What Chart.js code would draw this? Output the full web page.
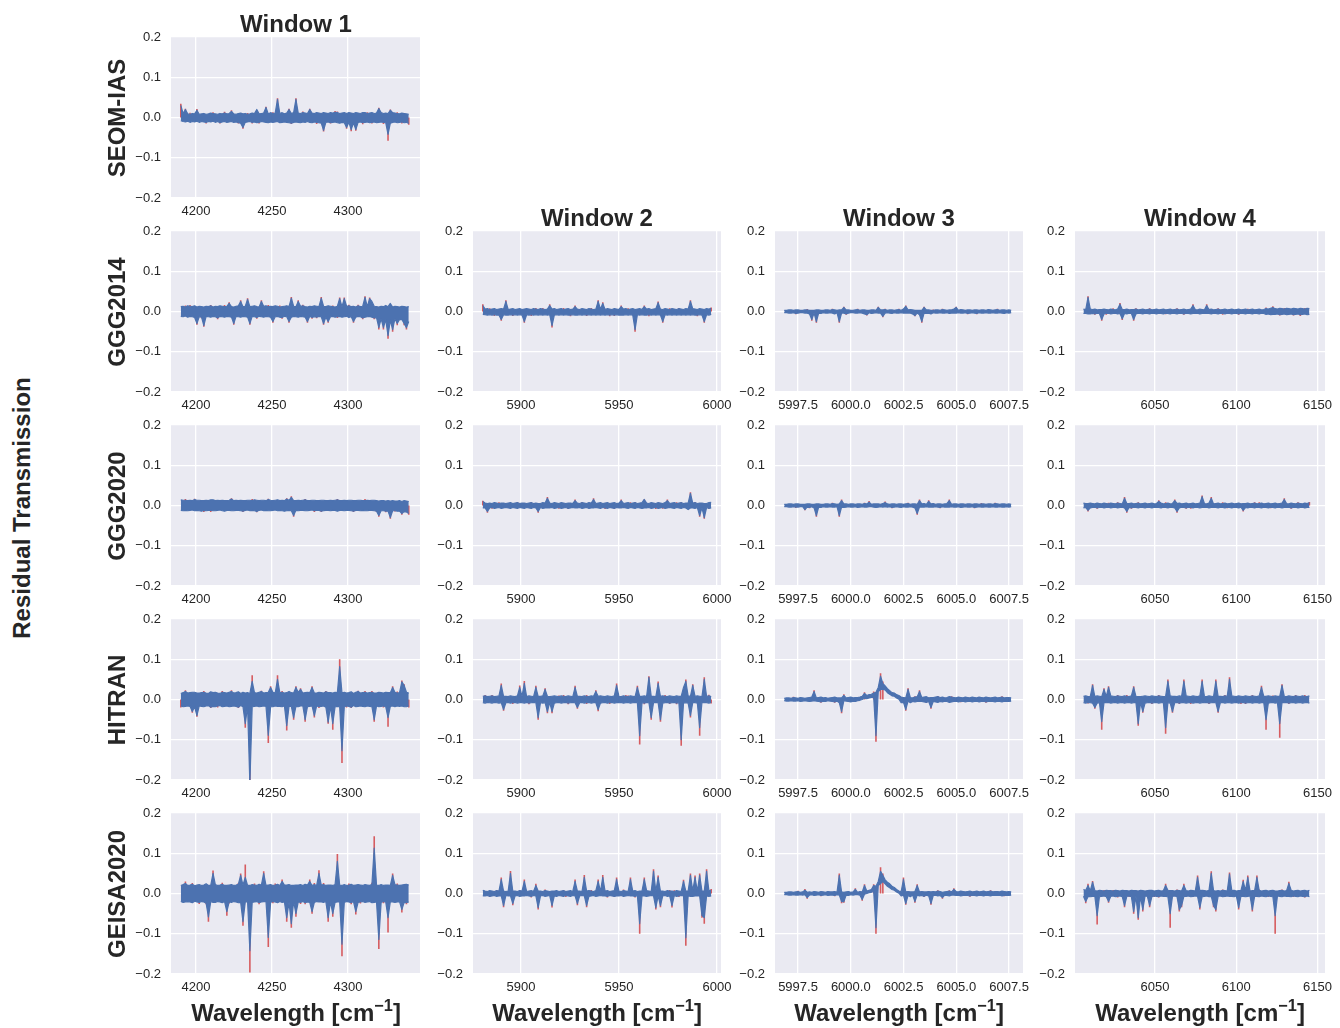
<!DOCTYPE html>
<html><head><meta charset="utf-8">
<script src="https://cdn.jsdelivr.net/npm/chart.js@4.4.0/dist/chart.umd.min.js"></script>
<style>
html,body{margin:0;padding:0;background:#fff;}
body{width:1340px;height:1028px;position:relative;overflow:hidden;font-family:"Liberation Sans",Arial,sans-serif;color:#262626;}
canvas.panel{position:absolute;}
.lbl{position:absolute;font-weight:bold;font-size:24px;line-height:24px;white-space:nowrap;transform:translate(-50%,-50%);}
.rot{transform:translate(-50%,-50%) rotate(-90deg);}
sup{font-size:0.68em;vertical-align:0.6em;line-height:0;}
</style></head><body>
<script>
// ---------------- text ----------------
const windowTitles = ["Window 1","Window 2","Window 3","Window 4"];
const modelNames = ["SEOM-IAS","GGG2014","GGG2020","HITRAN","GEISA2020"];
const yAxisTitle = "Residual Transmission";
const xAxisTitle = "Wavelength [cm<sup>\u22121</sup>]";

// ---------------- wavenumber ranges of each window (data span, cm-1) ----------------
const W1_span = [4190, 4340];
const W2_span = [5880.5, 5997];
const W3_span = [5996.85, 6007.6];
const W4_span = [6006, 6145];

// ---- blue residual: upper / lower extent at 100 samples across each window ----
// ---- red residual: [sample index, extreme value] where red reaches beyond blue ----
const SEOM_W1_upper = [.03,.01,.02,.009,.008,.01,.009,.018,.008,.009,
.01,.008,.009,.011,.01,.009,.008,.01,.009,.011,
.009,.01,.015,.009,.008,.01,.011,.009,.01,.008,
.009,.011,.01,.02,.009,.01,.011,.025,.009,.012,
.01,.011,.045,.01,.012,.009,.011,.02,.01,.012,
.045,.011,.01,.012,.011,.01,.02,.011,.01,.012,
.011,.01,.012,.011,.01,.012,.011,.013,.012,.01,
.011,.012,.01,.012,.011,.01,.012,.011,.01,.012,
.012,.01,.011,.012,.01,.011,.022,.012,.01,.011,
.01,.018,.012,.011,.01,.009,.011,.01,.009,.008];
const SEOM_W1_lower = [-.008,-.01,-.011,-.009,-.012,-.01,-.011,-.009,-.012,-.01,
-.011,-.012,-.01,-.011,-.009,-.012,-.01,-.013,-.011,-.01,
-.012,-.011,-.01,-.012,-.011,-.013,-.014,-.025,-.012,-.011,
-.01,-.012,-.011,-.013,-.012,-.01,-.011,-.012,-.013,-.011,
-.012,-.011,-.01,-.013,-.012,-.011,-.012,-.013,-.014,-.012,
-.011,-.012,-.013,-.011,-.012,-.01,-.012,-.013,-.011,-.012,
-.013,-.014,-.032,-.012,-.011,-.013,-.012,-.011,-.013,-.014,
-.012,-.013,-.025,-.012,-.03,-.013,-.03,-.012,-.011,-.013,
-.012,-.011,-.013,-.012,-.011,-.013,-.012,-.011,-.012,-.013,
-.042,-.014,-.012,-.011,-.013,-.012,-.011,-.013,-.012,-.015];
const SEOM_W1_red = [[0,.034],[2,.022],[7,.021],[14,.013],[22,.018],[27,-.028],[37,.027],[42,.048],[47,.022],[50,.048],
[56,.022],[62,-.035],[68,.015],[72,-.028],[74,-.034],[76,-.033],[86,.024],[90,-.058],[91,.02],[99,-.018],
[11,-.015],[17,-.015],[25,-.015],[34,-.015],[48,-.016],[65,-.015],[83,-.015],[96,-.015],
[4,.012],[19,.014],[29,.011],[31,-.015],[40,.013],[53,.015],[59,-.016],[67,.016],[79,-.017],[81,.013],[88,-.016],[94,.013]];

const GGG2014_W1_upper = [.012,.013,.011,.014,.013,.012,.014,.011,.013,.012,
.011,.013,.012,.014,.011,.013,.012,.014,.013,.012,
.013,.02,.012,.011,.013,.014,.025,.012,.013,.03,
.012,.013,.014,.012,.011,.025,.013,.014,.012,.013,
.012,.014,.013,.011,.012,.013,.014,.012,.033,.013,
.012,.025,.013,.014,.012,.011,.013,.012,.014,.013,
.012,.033,.013,.012,.014,.013,.012,.011,.013,.032,
.012,.032,.013,.014,.012,.013,.011,.014,.012,.013,
.035,.012,.032,.025,.013,.012,.011,.013,.012,.015,
.012,.02,.011,.013,.012,.011,.013,.012,.011,.012];
const GGG2014_W1_lower = [-.012,-.013,-.011,-.014,-.012,-.013,-.015,-.03,-.013,-.014,
-.035,-.012,-.013,-.014,-.012,-.013,-.016,-.012,-.013,-.014,
-.012,-.013,-.014,-.03,-.012,-.013,-.014,-.012,-.013,-.014,
-.03,-.012,-.013,-.015,-.012,-.013,-.014,-.012,-.013,-.014,
-.025,-.013,-.012,-.014,-.015,-.012,-.013,-.025,-.014,-.012,
-.013,-.014,-.012,-.013,-.014,-.025,-.012,-.015,-.013,-.014,
-.012,-.013,-.03,-.014,-.025,-.013,-.012,-.014,-.013,-.012,
-.014,-.013,-.012,-.015,-.013,-.025,-.014,-.012,-.013,-.016,
-.014,-.013,-.012,-.014,-.016,-.015,-.04,-.018,-.04,-.02,
-.06,-.022,-.045,-.018,-.03,-.02,-.02,-.03,-.04,-.025];
const GGG2014_W1_red = [[7,-.033],[10,-.038],[21,.023],[23,-.033],[26,.028],[29,.033],[30,-.033],[35,.028],[40,-.028],[47,-.028],
[48,.036],[51,.028],[55,-.028],[61,.036],[62,-.033],[64,-.028],[69,.035],[71,.035],[75,-.028],[80,.038],
[82,.035],[86,-.045],[88,-.045],[90,-.068],[92,-.05],[94,-.034],[97,-.034],[98,-.045],
[4,.016],[13,.016],[16,-.019],[44,-.018],[57,-.018],[73,.017],[79,-.019],
[2,.015],[9,-.017],[19,.016],[33,-.018],[38,.016],[43,.015],[53,.017],[59,-.017],[66,.015],[68,-.016],[77,.017],[84,-.019]];

const GGG2020_W1_upper = [.014,.013,.013,.012,.013,.012,.015,.013,.013,.012,
.012,.013,.012,.014,.014,.012,.013,.012,.013,.012,
.012,.013,.016,.012,.013,.012,.013,.012,.012,.013,
.013,.012,.014,.013,.012,.013,.013,.012,.015,.013,
.012,.013,.014,.012,.013,.012,.016,.013,.02,.012,
.012,.013,.012,.013,.014,.012,.012,.013,.013,.012,
.012,.013,.013,.012,.012,.013,.012,.013,.014,.012,
.012,.013,.012,.013,.013,.012,.012,.013,.013,.012,
.012,.013,.012,.013,.013,.012,.011,.012,.012,.011,
.012,.011,.012,.011,.011,.012,.01,.012,.011,.01];
const GGG2020_W1_lower = [-.012,-.013,-.012,-.013,-.012,-.011,-.013,-.012,-.013,-.014,
-.012,-.013,-.012,-.012,-.013,-.013,-.012,-.011,-.013,-.014,
-.012,-.012,-.013,-.013,-.012,-.012,-.013,-.014,-.012,-.011,
-.013,-.012,-.013,-.015,-.012,-.011,-.013,-.012,-.013,-.013,
-.012,-.011,-.013,-.012,-.013,-.014,-.013,-.012,-.013,-.025,
-.012,-.013,-.012,-.012,-.013,-.013,-.012,-.011,-.013,-.012,
-.012,-.014,-.013,-.012,-.012,-.013,-.012,-.012,-.014,-.012,
-.012,-.013,-.012,-.012,-.013,-.014,-.012,-.012,-.013,-.012,
-.013,-.013,-.012,-.012,-.013,-.014,-.025,-.013,-.013,-.014,
-.014,-.03,-.013,-.013,-.014,-.014,-.02,-.015,-.016,-.02];
const GGG2020_W1_red = [[48,.023],[49,-.028],[86,-.028],[91,-.033],[96,-.023],[99,-.023],
[2,.016],[6,.017],[13,-.016],[22,.018],[27,-.016],[33,-.017],[38,.017],[46,.018],[54,.016],[61,-.016],
[68,.016],[75,-.016],[85,-.016],[93,-.015],
[10,-.016],[31,.016],[58,-.016],[80,.016],[89,-.017]];

const HITRAN_W1_upper = [.015,.017,.02,.016,.017,.018,.018,.016,.016,.017,
.018,.016,.015,.019,.017,.018,.016,.015,.018,.017,
.016,.018,.02,.016,.017,.019,.015,.018,.016,.017,
.015,.045,.017,.016,.018,.02,.016,.017,.018,.03,
.018,.016,.05,.017,.018,.016,.017,.02,.017,.016,
.03,.018,.025,.016,.017,.018,.017,.03,.016,.016,
.018,.017,.016,.019,.017,.017,.016,.018,.017,.082,
.016,.018,.016,.017,.019,.015,.018,.02,.016,.017,
.018,.016,.017,.018,.016,.016,.018,.017,.016,.018,
.017,.017,.03,.018,.016,.017,.044,.035,.018,.016];
const HITRAN_W1_lower = [-.016,-.018,-.017,-.016,-.017,-.03,-.018,-.04,-.016,-.017,
-.018,-.016,-.015,-.019,-.017,-.018,-.016,-.015,-.018,-.017,
-.016,-.018,-.017,-.016,-.017,-.019,-.015,-.018,-.06,-.017,
-.21,-.018,-.017,-.016,-.018,-.017,-.016,-.017,-.089,-.018,
-.018,-.016,-.017,-.017,-.018,-.016,-.065,-.017,-.017,-.045,
-.017,-.018,-.016,-.016,-.05,-.018,-.017,-.016,-.04,-.016,
-.018,-.017,-.016,-.019,-.056,-.017,-.06,-.018,-.017,-.018,
-.127,-.018,-.016,-.017,-.019,-.015,-.018,-.017,-.016,-.017,
-.018,-.016,-.017,-.018,-.05,-.016,-.018,-.017,-.016,-.018,
-.045,-.017,-.016,-.018,-.016,-.017,-.016,-.018,-.018,-.016];
const HITRAN_W1_red = [[2,.023],[5,-.033],[7,-.043],[22,.023],[28,-.07],[30,-.21],[31,.06],[38,-.108],[39,.033],[42,.06],
[46,-.077],[49,-.05],[50,.033],[52,.028],[54,-.055],[57,.033],[58,-.045],[64,-.06],[66,-.075],[69,.1],
[70,-.158],[77,.022],[84,-.055],[90,-.068],[92,.033],[96,.047],[97,.038],
[13,-.021],[18,.021],[25,-.021],[35,.022],[63,.021],[74,-.021],[83,.021],
[0,-.02],[10,.021],[16,-.02],[44,.021],[60,-.021],[72,-.02],[80,.021],[88,-.02],[94,.02],[99,-.02]];

const GEISA_W1_upper = [.02,.022,.025,.02,.021,.023,.019,.021,.022,.02,
.021,.024,.02,.02,.05,.022,.02,.021,.023,.02,
.02,.021,.022,.02,.021,.023,.045,.021,.04,.02,
.02,.022,.021,.02,.023,.021,.05,.02,.021,.022,
.02,.021,.023,.02,.03,.021,.021,.022,.02,.02,
.021,.021,.022,.02,.023,.021,.03,.02,.022,.02,
.05,.021,.022,.02,.021,.021,.02,.022,.08,.021,
.02,.022,.02,.021,.023,.02,.021,.022,.021,.02,
.022,.021,.02,.023,.113,.021,.02,.022,.02,.021,
.021,.02,.045,.022,.021,.02,.021,.022,.023,.021];
const GEISA_W1_lower = [-.02,-.022,-.021,-.02,-.021,-.023,-.019,-.021,-.022,-.02,
-.021,-.024,-.058,-.02,-.022,-.022,-.02,-.021,-.023,-.02,
-.045,-.021,-.022,-.02,-.021,-.023,-.022,-.07,-.021,-.02,
-.142,-.022,-.021,-.02,-.023,-.021,-.02,-.02,-.109,-.022,
-.02,-.021,-.023,-.02,-.022,-.021,-.06,-.022,-.075,-.02,
-.05,-.021,-.022,-.02,-.023,-.021,-.022,-.045,-.022,-.02,
-.021,-.021,-.022,-.02,-.06,-.021,-.05,-.022,-.021,-.021,
-.126,-.022,-.02,-.021,-.023,-.02,-.045,-.022,-.021,-.02,
-.022,-.021,-.02,-.023,-.022,-.021,-.114,-.022,-.02,-.021,
-.06,-.02,-.021,-.022,-.021,-.02,-.04,-.022,-.023,-.021];
const GEISA_W1_red = [[2,.03],[12,-.07],[14,.057],[20,-.055],[26,.05],[27,-.08],[28,.072],[30,-.196],[36,.055],[38,-.133],
[44,.035],[46,-.07],[48,-.085],[50,-.058],[56,.035],[57,-.05],[60,.058],[64,-.07],[66,-.058],[68,.098],
[70,-.156],[76,-.052],[84,.142],[86,-.138],[90,-.097],[92,.05],[96,-.047],
[11,-.027],[18,.027],[25,.026],[34,-.027],[41,.025],[54,-.027],[62,.026],[74,-.027],[83,.027],[98,-.027],
[5,.026],[8,-.026],[21,-.025],[32,.025],[40,-.024],[52,-.026],[58,.026],[73,.025],[78,-.025],[88,-.024],[94,.025]];

const GGG2014_W2_upper = [.015,.006,.007,.005,.006,.007,.005,.006,.007,.006,
.025,.005,.006,.007,.005,.006,.007,.005,.006,.007,
.006,.005,.007,.006,.005,.007,.006,.005,.006,.015,
.006,.007,.005,.006,.007,.005,.006,.007,.005,.006,
.012,.006,.005,.007,.006,.005,.007,.006,.005,.006,
.025,.006,.02,.005,.007,.006,.005,.007,.006,.005,
.012,.006,.007,.005,.006,.007,.005,.006,.007,.005,
.012,.006,.007,.005,.006,.007,.022,.006,.005,.007,
.006,.005,.007,.006,.005,.007,.006,.005,.007,.006,
.025,.007,.006,.005,.007,.006,.005,.007,.006,.008];
const GGG2014_W2_lower = [-.007,-.008,-.009,-.008,-.009,-.008,-.009,-.009,-.02,-.008,
-.009,-.009,-.008,-.009,-.008,-.009,-.008,-.009,-.025,-.008,
-.009,-.008,-.009,-.008,-.009,-.008,-.009,-.008,-.009,-.008,
-.035,-.009,-.008,-.009,-.008,-.009,-.008,-.009,-.009,-.008,
-.009,-.009,-.008,-.009,-.008,-.009,-.008,-.009,-.008,-.009,
-.008,-.009,-.008,-.009,-.008,-.009,-.008,-.009,-.008,-.009,
-.009,-.009,-.008,-.009,-.008,-.009,-.045,-.008,-.009,-.008,
-.009,-.009,-.008,-.009,-.008,-.009,-.008,-.009,-.025,-.008,
-.009,-.008,-.009,-.008,-.009,-.008,-.009,-.008,-.009,-.008,
-.009,-.008,-.009,-.009,-.008,-.009,-.025,-.008,-.009,-.007];
const GGG2014_W2_red = [[0,.018],[8,-.023],[10,.028],[18,-.028],[29,.018],[30,-.04],[40,.015],[50,.028],[52,.023],[60,.015],
[66,-.05],[70,.015],[76,.025],[78,-.028],[90,.028],[96,-.028],
[5,-.011],[13,-.011],[23,.009],[35,.009],[45,-.011],[57,-.011],[85,.009],[99,.01],
[3,.008],[21,-.011],[26,.009],[38,-.012],[47,.009],[55,-.012],[63,.008],[72,-.012],[81,.008],[93,-.012]];

const GGG2020_W2_upper = [.01,.006,.005,.006,.005,.007,.006,.005,.006,.006,
.005,.006,.007,.005,.006,.007,.005,.006,.006,.005,
.006,.007,.005,.006,.005,.005,.007,.006,.018,.006,
.005,.007,.006,.005,.007,.006,.005,.006,.006,.005,
.012,.006,.005,.007,.006,.005,.007,.006,.015,.005,
.006,.007,.005,.006,.007,.005,.006,.007,.005,.006,
.012,.005,.006,.007,.005,.006,.007,.005,.006,.007,
.015,.006,.005,.007,.006,.005,.007,.006,.005,.007,
.012,.005,.006,.007,.005,.006,.007,.005,.006,.006,
.03,.006,.007,.005,.006,.006,.005,.005,.007,.008];
const GGG2020_W2_lower = [-.006,-.006,-.015,-.006,-.005,-.007,-.006,-.005,-.007,-.006,
-.005,-.006,-.007,-.005,-.006,-.007,-.005,-.006,-.007,-.005,
-.006,-.007,-.005,-.006,-.015,-.005,-.007,-.006,-.006,-.006,
-.005,-.007,-.006,-.005,-.007,-.006,-.005,-.007,-.006,-.005,
-.006,-.006,-.005,-.007,-.006,-.005,-.007,-.006,-.006,-.005,
-.006,-.007,-.005,-.006,-.007,-.005,-.006,-.007,-.005,-.006,
-.006,-.005,-.006,-.007,-.005,-.006,-.007,-.005,-.006,-.007,
-.006,-.006,-.005,-.007,-.006,-.005,-.007,-.006,-.005,-.007,
-.006,-.005,-.006,-.007,-.005,-.006,-.007,-.005,-.006,-.01,
-.006,-.006,-.007,-.005,-.025,-.006,-.03,-.005,-.007,-.006];
const GGG2020_W2_red = [[0,.012],[2,-.018],[24,-.018],[28,.021],[40,.015],[48,.018],[60,.015],[70,.015],[80,.015],[90,.033],
[94,-.028],[96,-.033],
[7,.008],[15,.009],[37,-.009],[53,-.009],[66,.009],[75,-.009],[86,.009],
[4,-.008],[21,.009],[33,-.008],[43,.009],[57,-.009],[64,.008],[78,-.008],[84,.008],[92,.009],[98,-.009]];

const HITRAN_W2_upper = [.008,.009,.007,.008,.009,.007,.008,.009,.035,.008,
.008,.007,.009,.008,.007,.009,.03,.008,.04,.007,
.009,.008,.007,.03,.008,.008,.009,.025,.008,.007,
.008,.009,.008,.007,.009,.008,.007,.009,.008,.007,
.03,.008,.008,.007,.009,.008,.007,.009,.008,.02,
.008,.009,.008,.007,.009,.008,.007,.009,.035,.008,
.007,.009,.008,.007,.009,.008,.007,.03,.008,.008,
.009,.007,.055,.008,.008,.007,.04,.008,.009,.008,
.007,.009,.008,.007,.009,.008,.008,.03,.045,.009,
.008,.035,.008,.009,.008,.007,.05,.008,.009,.007];
const HITRAN_W2_lower = [-.008,-.009,-.007,-.008,-.009,-.007,-.008,-.009,-.008,-.025,
-.008,-.007,-.009,-.008,-.007,-.009,-.008,-.008,-.009,-.007,
-.009,-.008,-.007,-.008,-.045,-.008,-.009,-.008,-.03,-.007,
-.03,-.009,-.008,-.007,-.009,-.008,-.007,-.009,-.008,-.007,
-.008,-.02,-.008,-.007,-.009,-.008,-.007,-.009,-.008,-.008,
-.025,-.009,-.008,-.007,-.009,-.008,-.007,-.009,-.008,-.008,
-.007,-.009,-.008,-.007,-.009,-.008,-.007,-.008,-.09,-.008,
-.009,-.007,-.008,-.045,-.008,-.007,-.008,-.05,-.009,-.008,
-.007,-.009,-.008,-.007,-.009,-.008,-.1,-.009,-.008,-.009,
-.04,-.008,-.008,-.009,-.07,-.007,-.008,-.008,-.009,-.007];
const HITRAN_W2_red = [[8,.04],[9,-.028],[16,.035],[18,.046],[23,.034],[24,-.05],[27,.028],[28,-.034],[30,-.034],[40,.034],
[41,-.023],[49,.023],[50,-.029],[58,.04],[67,.034],[68,-.112],[72,.058],[73,-.05],[76,.045],[77,-.055],
[86,-.115],[88,.05],[90,-.045],[91,.038],[94,-.09],[96,.055],
[4,.011],[13,-.011],[35,.011],[45,-.011],[62,.011],[81,-.011],[99,-.01],
[1,.011],[20,-.012],[33,.01],[37,-.012],[45,.011],[55,-.011],[63,.01],[70,-.012],[79,.011],[84,-.012],[98,.012]];

const GEISA_W2_upper = [.008,.006,.005,.007,.006,.005,.007,.006,.035,.006,
.005,.006,.05,.006,.006,.005,.007,.006,.03,.005,
.006,.007,.005,.02,.006,.006,.005,.007,.006,.005,
.006,.006,.007,.005,.006,.007,.005,.006,.007,.005,
.03,.006,.006,.005,.04,.006,.007,.006,.005,.007,
.03,.005,.04,.006,.007,.005,.006,.007,.035,.006,
.005,.007,.006,.005,.035,.006,.007,.005,.006,.006,
.035,.007,.006,.005,.055,.006,.04,.006,.006,.005,
.007,.006,.006,.005,.007,.006,.005,.03,.006,.006,
.045,.007,.04,.006,.045,.006,.006,.055,.007,.008];
const GEISA_W2_lower = [-.006,-.006,-.005,-.007,-.006,-.005,-.007,-.006,-.006,-.03,
-.005,-.006,-.006,-.025,-.006,-.005,-.007,-.006,-.006,-.005,
-.006,-.007,-.005,-.006,-.035,-.006,-.005,-.007,-.006,-.005,
-.03,-.006,-.007,-.005,-.006,-.007,-.005,-.006,-.007,-.005,
-.006,-.025,-.006,-.005,-.006,-.03,-.007,-.006,-.005,-.007,
-.006,-.005,-.006,-.006,-.007,-.005,-.006,-.007,-.006,-.006,
-.005,-.007,-.006,-.005,-.006,-.006,-.007,-.005,-.075,-.006,
-.006,-.007,-.006,-.005,-.006,-.035,-.006,-.03,-.006,-.005,
-.007,-.006,-.03,-.005,-.007,-.006,-.005,-.006,-.11,-.006,
-.007,-.007,-.006,-.006,-.006,-.055,-.06,-.006,-.007,-.006];
const GEISA_W2_red = [[8,.04],[9,-.034],[12,.056],[13,-.029],[18,.035],[23,.024],[24,-.04],[30,-.035],[40,.035],[41,-.029],
[44,.046],[45,-.034],[50,.035],[52,.046],[58,.04],[64,.04],[68,-.1],[70,.04],[74,.06],[75,-.04],
[76,.045],[77,-.034],[82,-.035],[87,.034],[88,-.13],[90,.05],[92,.045],[94,.05],[95,-.06],[96,-.075],[97,.06],
[3,-.009],[16,.009],[35,.009],[57,-.009],[83,.008],
[6,.009],[21,-.01],[27,.01],[36,-.009],[47,.009],[54,-.01],[61,.01],[66,-.01],[81,.009],[85,-.009],[99,.011]];

const GGG2014_W3_upper = [.003,.003,.004,.004,.003,.004,.004,.003,.003,.004,
.004,.003,.003,.003,.004,.004,.003,.003,.004,.004,
.003,.005,.004,.003,.004,.004,.01,.004,.004,.003,
.003,.004,.005,.003,.004,.004,.003,.003,.004,.004,
.003,.01,.004,.004,.005,.003,.004,.004,.003,.004,
.005,.003,.006,.013,.004,.005,.004,.003,.003,.003,
.003,.01,.004,.004,.003,.003,.004,.004,.003,.005,
.004,.003,.004,.004,.006,.01,.003,.005,.004,.003,
.004,.004,.003,.004,.004,.003,.004,.004,.003,.005,
.004,.003,.004,.005,.003,.004,.004,.003,.004,.003];
const GGG2014_W3_lower = [-.003,-.003,-.004,-.004,-.003,-.005,-.004,-.003,-.003,-.004,
-.004,-.006,-.02,-.004,-.025,-.004,-.005,-.003,-.004,-.004,
-.003,-.004,-.006,-.003,-.025,-.004,-.004,-.006,-.004,-.003,
-.003,-.004,-.004,-.003,-.004,-.006,-.008,-.003,-.005,-.004,
-.003,-.004,-.004,-.012,-.004,-.003,-.004,-.005,-.003,-.004,
-.004,-.003,-.004,-.004,-.004,-.004,-.006,-.01,-.004,-.008,
-.025,-.004,-.005,-.004,-.006,-.003,-.004,-.004,-.003,-.004,
-.004,-.003,-.005,-.004,-.004,-.004,-.003,-.004,-.004,-.003,
-.005,-.004,-.003,-.004,-.005,-.003,-.004,-.004,-.003,-.004,
-.004,-.003,-.004,-.004,-.003,-.004,-.005,-.003,-.004,-.003];
const GGG2014_W3_red = [[12,-.023],[14,-.028],[24,-.028],[26,.012],[36,-.01],[41,.012],[43,-.014],[53,.015],[57,-.012],[60,-.028],
[61,.012],[75,.012],
[5,-.007],[21,.007],[32,.007],[50,.007],[65,.005],[84,-.007],[93,.007],
[10,.006],[27,-.008],[44,.007],[69,.007],[80,-.007]];

const GGG2020_W3_upper = [.003,.003,.004,.004,.003,.004,.004,.003,.003,.003,
.004,.004,.003,.003,.004,.004,.003,.003,.004,.004,
.003,.005,.004,.003,.004,.012,.004,.004,.003,.004,
.004,.003,.004,.004,.003,.005,.004,.008,.003,.004,
.004,.004,.003,.005,.007,.004,.003,.004,.004,.003,
.004,.004,.003,.004,.005,.003,.004,.004,.003,.012,
.004,.005,.003,.01,.004,.005,.003,.004,.004,.003,
.004,.005,.012,.003,.004,.004,.003,.004,.004,.003,
.004,.004,.003,.004,.004,.003,.004,.004,.003,.004,
.004,.003,.005,.004,.003,.004,.004,.003,.004,.003];
const GGG2020_W3_lower = [-.003,-.003,-.004,-.004,-.003,-.004,-.004,-.003,-.003,-.01,
-.004,-.005,-.003,-.006,-.025,-.004,-.005,-.003,-.004,-.004,
-.003,-.004,-.004,-.003,-.025,-.004,-.005,-.004,-.003,-.004,
-.004,-.003,-.005,-.004,-.003,-.004,-.004,-.003,-.003,-.004,
-.005,-.004,-.003,-.004,-.003,-.004,-.003,-.005,-.004,-.003,
-.004,-.005,-.003,-.004,-.004,-.003,-.004,-.006,-.02,-.004,
-.004,-.004,-.003,-.004,-.004,-.004,-.003,-.004,-.005,-.003,
-.004,-.004,-.004,-.003,-.004,-.004,-.003,-.005,-.004,-.003,
-.004,-.004,-.003,-.005,-.004,-.003,-.004,-.004,-.003,-.004,
-.004,-.003,-.004,-.004,-.003,-.004,-.004,-.003,-.004,-.003];
const GGG2020_W3_red = [[9,-.012],[14,-.028],[24,-.028],[25,.015],[37,.011],[44,.01],[58,-.023],[59,.015],[63,.013],[72,.015],
[5,-.006],[21,.007],[47,-.007],[83,-.007],[92,.007],
[11,-.007],[35,.007],[54,.007],[68,-.007],[86,.006]];

const HITRAN_W3_upper = [.003,.004,.004,.003,.005,.004,.003,.005,.004,.003,
.004,.005,.006,.02,.004,.005,.006,.004,.005,.003,
.004,.005,.006,.004,.004,.004,.01,.004,.005,.006,
.004,.005,.005,.006,.008,.015,.01,.012,.013,.016,
.018,.03,.058,.04,.034,.027,.022,.017,.016,.012,
.01,.006,.005,.004,.025,.005,.004,.006,.007,.02,
.005,.006,.007,.004,.005,.005,.006,.007,.005,.006,
.004,.005,.007,.006,.005,.004,.006,.005,.004,.006,
.005,.004,.006,.005,.004,.006,.005,.004,.006,.005,
.004,.005,.006,.004,.005,.006,.004,.005,.005,.004];
const HITRAN_W3_lower = [-.003,-.004,-.004,-.003,-.004,-.004,-.003,-.005,-.004,-.003,
-.004,-.005,-.004,-.003,-.004,-.005,-.006,-.004,-.005,-.003,
-.004,-.005,-.006,-.004,-.008,-.03,-.003,-.004,-.005,-.006,
-.004,-.005,-.003,-.002,0,.003,.002,.004,.005,.006,
-.09,.02,.025,.025,.024,.017,.013,.009,.008,.004,
.001,-.008,-.007,-.025,-.004,-.008,-.005,-.006,-.005,-.004,
-.005,-.006,-.007,-.005,-.02,-.005,-.006,-.007,-.005,-.006,
-.004,-.005,-.007,-.006,-.005,-.004,-.006,-.005,-.004,-.006,
-.005,-.004,-.006,-.005,-.004,-.006,-.005,-.004,-.006,-.005,
-.004,-.005,-.006,-.004,-.005,-.006,-.004,-.005,-.005,-.004];
const HITRAN_W3_red = [[13,.023],[25,-.034],[26,.013],[35,.018],[39,.02],[40,-.105],[42,.065],[43,.045],[53,-.028],[54,.028],
[59,.023],[64,-.023],
[4,.007],[16,-.008],[22,-.008],[62,-.009],[73,.008],[88,-.008],
[30,-.006],[57,.008],[67,.009],[77,-.007],[95,.008]];

const GEISA_W3_upper = [.003,.003,.004,.004,.003,.004,.005,.003,.004,.008,
.003,.004,.003,.005,.004,.003,.005,.004,.003,.005,
.004,.004,.005,.003,.045,.004,.003,.004,.005,.003,
.004,.01,.003,.005,.004,.02,.006,.008,.01,.02,
.018,.03,.055,.045,.034,.028,.024,.018,.015,.01,
.006,.005,.035,.004,.005,.004,.004,.005,.02,.004,
.005,.004,.004,.005,.004,.005,.004,.006,.005,.003,
.004,.005,.006,.004,.01,.005,.004,.006,.005,.004,
.005,.006,.004,.005,.006,.004,.005,.006,.004,.005,
.006,.004,.005,.005,.004,.006,.005,.004,.005,.004];
const GEISA_W3_lower = [-.003,-.003,-.004,-.004,-.003,-.004,-.004,-.003,-.004,-.003,
-.01,-.004,-.003,-.005,-.004,-.003,-.005,-.004,-.003,-.005,
-.004,-.004,-.005,-.003,-.004,-.02,-.02,-.004,-.005,-.003,
-.004,-.003,-.003,-.004,-.015,-.002,0,.002,.003,.005,
-.085,.02,.025,.03,.024,.018,.014,.01,.008,.004,
.001,-.006,-.004,-.025,-.005,-.008,-.004,-.02,-.004,-.006,
-.005,-.007,-.004,-.006,-.025,-.005,-.004,-.006,-.005,-.01,
-.004,-.005,-.006,-.004,-.004,-.005,-.004,-.006,-.005,-.004,
-.005,-.006,-.004,-.005,-.006,-.004,-.005,-.006,-.004,-.005,
-.006,-.004,-.005,-.005,-.004,-.006,-.005,-.004,-.005,-.004];
const GEISA_W3_red = [[9,.011],[10,-.013],[24,.05],[25,-.024],[26,-.023],[31,.013],[34,-.018],[35,.023],[39,.023],[40,-.1],
[42,.065],[43,.05],[52,.04],[53,-.028],[57,-.023],[58,.023],[64,-.028],[69,-.013],[74,.013],
[6,.007],[16,-.007],[61,-.009],[81,-.008],[90,.008],
[22,-.007],[67,.008],[72,.008],[85,-.006],[96,-.007]];

const GGG2014_W4_upper = [.006,.005,.035,.006,.005,.006,.004,.005,.005,.006,
.005,.004,.006,.005,.004,.006,.018,.005,.005,.006,
.004,.005,.005,.006,.004,.005,.006,.004,.005,.006,
.004,.005,.006,.004,.005,.006,.004,.005,.006,.004,
.005,.006,.004,.005,.006,.004,.005,.006,.015,.005,
.004,.006,.005,.004,.015,.005,.006,.004,.005,.006,
.004,.005,.006,.004,.005,.006,.004,.005,.006,.004,
.005,.006,.004,.005,.006,.004,.005,.006,.004,.005,
.007,.006,.008,.01,.007,.006,.008,.007,.006,.008,
.007,.006,.008,.007,.006,.008,.007,.006,.008,.007];
const GGG2014_W4_lower = [-.005,-.005,-.006,-.006,-.005,-.006,-.004,-.005,-.02,-.006,
-.005,-.004,-.006,-.005,-.004,-.006,-.005,-.018,-.005,-.006,
-.004,-.005,-.02,-.006,-.004,-.005,-.006,-.004,-.005,-.006,
-.004,-.005,-.006,-.004,-.005,-.006,-.004,-.005,-.006,-.004,
-.005,-.006,-.004,-.005,-.006,-.004,-.005,-.006,-.005,-.005,
-.004,-.006,-.005,-.004,-.005,-.005,-.006,-.004,-.005,-.006,
-.004,-.005,-.006,-.004,-.005,-.006,-.004,-.005,-.006,-.004,
-.005,-.006,-.004,-.005,-.006,-.004,-.005,-.006,-.004,-.005,
-.007,-.006,-.008,-.007,-.007,-.006,-.008,-.007,-.006,-.008,
-.007,-.006,-.008,-.007,-.006,-.008,-.007,-.006,-.008,-.007];
const GGG2014_W4_red = [[2,.038],[8,-.023],[16,.021],[17,-.021],[22,-.023],[48,.018],[54,.018],[83,.013],
[5,-.008],[13,.008],[29,.008],[36,-.007],[61,-.008],[72,.007],[86,-.01],[92,-.01],[97,.009],
[10,-.008],[23,.008],[41,.008],[44,-.008],[59,.008],[68,-.008],[80,.01],[88,.009],[95,-.011]];

const GGG2020_W4_upper = [.006,.005,.005,.006,.005,.004,.006,.005,.004,.006,
.005,.004,.006,.005,.004,.006,.005,.004,.018,.005,
.005,.006,.004,.005,.006,.004,.005,.006,.004,.005,
.006,.004,.005,.01,.006,.004,.005,.006,.004,.005,
.012,.005,.006,.004,.005,.006,.004,.005,.006,.004,
.005,.006,.022,.005,.004,.006,.018,.004,.005,.006,
.004,.005,.006,.004,.005,.006,.004,.005,.006,.004,
.005,.005,.006,.004,.005,.006,.004,.005,.006,.004,
.005,.006,.004,.005,.006,.004,.005,.006,.015,.005,
.004,.006,.005,.004,.006,.005,.004,.006,.005,.007];
const GGG2020_W4_lower = [-.006,-.005,-.012,-.006,-.005,-.004,-.006,-.005,-.004,-.006,
-.005,-.004,-.006,-.005,-.004,-.006,-.005,-.004,-.006,-.015,
-.005,-.006,-.004,-.005,-.006,-.004,-.005,-.006,-.004,-.005,
-.006,-.004,-.005,-.005,-.006,-.004,-.005,-.006,-.004,-.005,
-.006,-.015,-.006,-.004,-.005,-.006,-.004,-.005,-.006,-.004,
-.005,-.006,-.005,-.005,-.004,-.006,-.005,-.004,-.005,-.006,
-.004,-.005,-.006,-.004,-.005,-.006,-.004,-.005,-.006,-.004,
-.012,-.005,-.006,-.004,-.005,-.006,-.004,-.005,-.006,-.004,
-.005,-.006,-.004,-.005,-.006,-.004,-.005,-.006,-.005,-.005,
-.004,-.006,-.005,-.004,-.006,-.005,-.004,-.006,-.005,-.005];
const GGG2020_W4_red = [[2,-.015],[18,.021],[19,-.018],[33,.013],[40,.015],[41,-.018],[52,.025],[56,.021],[70,-.015],[88,.018],
[6,-.008],[11,.007],[24,.008],[47,-.008],[63,-.007],[77,.008],[94,.008],[99,.009],
[15,.008],[21,-.008],[36,.008],[45,-.008],[61,.008],[75,.008],[82,-.007],[91,-.008]];

const HITRAN_W4_upper = [.008,.009,.007,.008,.035,.007,.009,.008,.007,.025,
.008,.03,.009,.008,.007,.009,.008,.007,.009,.008,
.007,.009,.03,.008,.007,.007,.008,.009,.008,.007,
.009,.008,.007,.009,.008,.007,.008,.045,.009,.008,
.008,.007,.009,.008,.045,.009,.008,.007,.009,.008,
.007,.009,.045,.008,.007,.009,.008,.007,.045,.008,
.008,.007,.009,.008,.05,.009,.008,.007,.009,.008,
.007,.009,.008,.007,.009,.008,.007,.009,.03,.008,
.008,.009,.008,.007,.009,.008,.008,.035,.008,.007,
.009,.008,.007,.009,.008,.007,.009,.008,.007,.009];
const HITRAN_W4_lower = [-.008,-.009,-.007,-.008,-.009,-.02,-.009,-.008,-.055,-.008,
-.008,-.007,-.009,-.008,-.007,-.009,-.008,-.007,-.009,-.008,
-.007,-.009,-.008,-.008,-.06,-.007,-.03,-.009,-.008,-.007,
-.009,-.008,-.007,-.009,-.008,-.007,-.07,-.008,-.009,-.03,
-.008,-.007,-.009,-.008,-.008,-.009,-.008,-.007,-.009,-.008,
-.007,-.009,-.008,-.008,-.007,-.009,-.008,-.007,-.008,-.03,
-.008,-.007,-.009,-.008,-.008,-.009,-.008,-.007,-.009,-.008,
-.007,-.009,-.008,-.007,-.009,-.008,-.007,-.009,-.008,-.008,
-.05,-.009,-.008,-.007,-.009,-.008,-.06,-.008,-.008,-.007,
-.009,-.008,-.007,-.009,-.008,-.007,-.009,-.008,-.007,-.009];
const HITRAN_W4_red = [[4,.038],[5,-.023],[8,-.075],[9,.028],[11,.033],[22,.033],[24,-.065],[26,-.033],[36,-.085],[37,.05],
[39,-.033],[44,.05],[52,.05],[58,.05],[59,-.033],[64,.055],[78,.034],[80,-.075],[86,-.095],[87,.038],
[15,.011],[30,-.011],[47,-.011],[69,-.011],[74,.011],[93,.011],
[2,-.01],[19,.011],[33,.011],[42,-.011],[55,-.011],[62,.011],[71,-.011],[83,.01],[90,-.011],[97,.011]];

const GEISA_W4_upper = [.01,.008,.02,.007,.028,.007,.006,.008,.007,.006,
.008,.007,.007,.006,.008,.007,.006,.008,.007,.007,
.006,.008,.007,.007,.006,.008,.007,.006,.007,.008,
.008,.006,.007,.008,.006,.007,.02,.008,.007,.007,
.006,.008,.007,.006,.02,.007,.006,.008,.007,.006,
.04,.007,.008,.007,.006,.008,.05,.007,.006,.007,
.006,.008,.007,.006,.048,.007,.008,.006,.007,.007,
.03,.008,.04,.006,.007,.007,.04,.008,.006,.007,
.008,.006,.007,.008,.006,.006,.007,.008,.006,.007,
.025,.008,.006,.007,.008,.006,.007,.008,.006,.008];
const GEISA_W4_lower = [-.007,-.02,-.008,-.008,-.007,-.007,-.055,-.008,-.007,-.006,
-.008,-.02,-.007,-.006,-.008,-.007,-.006,-.008,-.03,-.007,
-.006,-.008,-.045,-.007,-.06,-.008,-.04,-.006,-.007,-.03,
-.008,-.006,-.007,-.008,-.006,-.007,-.007,-.008,-.05,-.007,
-.006,-.008,-.04,-.03,-.007,-.007,-.006,-.008,-.007,-.006,
-.007,-.035,-.008,-.007,-.006,-.008,-.007,-.03,-.04,-.007,
-.006,-.008,-.007,-.006,-.007,-.007,-.008,-.006,-.035,-.007,
-.007,-.008,-.007,-.006,-.04,-.007,-.007,-.008,-.006,-.007,
-.008,-.006,-.007,-.008,-.055,-.006,-.007,-.008,-.006,-.007,
-.007,-.008,-.006,-.007,-.008,-.006,-.007,-.008,-.006,-.008];
const GEISA_W4_red = [[1,-.024],[2,.024],[4,.031],[6,-.077],[11,-.023],[18,-.034],[22,-.05],[24,-.065],[26,-.045],[29,-.034],
[36,.024],[38,-.085],[42,-.045],[43,-.034],[44,.024],[50,.045],[51,-.04],[56,.055],[57,-.034],[58,-.045],
[64,.052],[68,-.04],[70,.034],[72,.045],[74,-.045],[76,.045],[84,-.1],[90,.029],
[9,.009],[15,-.01],[33,-.01],[61,.01],[81,-.009],[97,-.01],
[13,.009],[20,-.009],[31,-.009],[41,.01],[48,-.009],[53,.009],[62,-.009],[77,.01],[87,.01],[92,-.009]];

const yTicks = [-0.2,-0.1,0,0.1,0.2];

// ---------------- layout / style ----------------
const FONT = "'Liberation Sans', Arial, sans-serif";
const BLUE = '#4C72B0', RED = 'rgb(214,92,96)', BG = '#EAEAF2', TXT = '#262626';
const PLOT_L = [171, 473, 775, 1075], PLOT_W = [249, 248, 248, 250];
const PLOT_T = [37, 231, 425, 619, 813], PLOT_H = 161;
const Y_AXIS_W = 60, PAD_T = 22, PAD_R = 34, X_AXIS_H = 30;

const WIN = [
  {span: W1_span, min: 4183.55, max: 4347.4, step: 50, dec: 0},
  {span: W2_span, min: 5875.5, max: 6002.0, step: 50, dec: 0},
  {span: W3_span, min: 5996.41, max: 6008.16, step: 2.5, dec: 1},
  {span: W4_span, min: 6000.8, max: 6154.6, step: 50, dec: 0}
];

const PANELS = [
  [0,0,SEOM_W1_upper,SEOM_W1_lower,SEOM_W1_red],
  [1,0,GGG2014_W1_upper,GGG2014_W1_lower,GGG2014_W1_red],[1,1,GGG2014_W2_upper,GGG2014_W2_lower,GGG2014_W2_red],
  [1,2,GGG2014_W3_upper,GGG2014_W3_lower,GGG2014_W3_red],[1,3,GGG2014_W4_upper,GGG2014_W4_lower,GGG2014_W4_red],
  [2,0,GGG2020_W1_upper,GGG2020_W1_lower,GGG2020_W1_red],[2,1,GGG2020_W2_upper,GGG2020_W2_lower,GGG2020_W2_red],
  [2,2,GGG2020_W3_upper,GGG2020_W3_lower,GGG2020_W3_red],[2,3,GGG2020_W4_upper,GGG2020_W4_lower,GGG2020_W4_red],
  [3,0,HITRAN_W1_upper,HITRAN_W1_lower,HITRAN_W1_red],[3,1,HITRAN_W2_upper,HITRAN_W2_lower,HITRAN_W2_red],
  [3,2,HITRAN_W3_upper,HITRAN_W3_lower,HITRAN_W3_red],[3,3,HITRAN_W4_upper,HITRAN_W4_lower,HITRAN_W4_red],
  [4,0,GEISA_W1_upper,GEISA_W1_lower,GEISA_W1_red],[4,1,GEISA_W2_upper,GEISA_W2_lower,GEISA_W2_red],
  [4,2,GEISA_W3_upper,GEISA_W3_lower,GEISA_W3_red],[4,3,GEISA_W4_upper,GEISA_W4_lower,GEISA_W4_red]
];

const bgPlugin = {id:'bgArea', beforeDraw(chart){
  const {ctx, chartArea:a} = chart; ctx.save(); ctx.fillStyle = BG;
  ctx.fillRect(a.left, a.top, a.right - a.left, a.bottom - a.top); ctx.restore();
}};

function sampleGrid(span, n){ const out=[]; for(let i=0;i<n;i++) out.push(span[0] + i*(span[1]-span[0])/(n-1)); return out; }
const fmtY = v => Math.abs(v) < 1e-9 ? '0.0' : v.toFixed(1).replace('-', '\u2212');

PANELS.forEach(([row, col, upper, lower, red]) => {
  const w = WIN[col];
  const c = document.createElement('canvas');
  const cw = PLOT_W[col] + Y_AXIS_W + PAD_R, ch = PLOT_H + PAD_T + X_AXIS_H;
  c.width = cw; c.height = ch; c.className = 'panel';
  c.style.left = (PLOT_L[col] - Y_AXIS_W) + 'px'; c.style.top = (PLOT_T[row] - PAD_T) + 'px';
  c.style.width = cw + 'px'; c.style.height = ch + 'px';
  document.body.appendChild(c);
  const xs = sampleGrid(w.span, upper.length);
  const redPts = [];
  red.forEach(([i, v]) => { redPts.push({x: xs[i], y: 0}, {x: xs[i], y: v}, {x: xs[i], y: null}); });
  new Chart(c, {
    type: 'line',
    data: {datasets: [
      {data: upper.map((y, i) => ({x: xs[i], y})), borderColor: BLUE, backgroundColor: BLUE, fill: false,
       borderWidth: 1.2, pointRadius: 0, tension: 0, borderJoinStyle: 'round'},
      {data: lower.map((y, i) => ({x: xs[i], y})), borderColor: BLUE, backgroundColor: BLUE, fill: '-1',
       borderWidth: 1.2, pointRadius: 0, tension: 0, borderJoinStyle: 'round'},
      {data: redPts, borderColor: RED, borderWidth: 1.6, pointRadius: 0, tension: 0, spanGaps: false, fill: false, borderCapStyle: 'butt'}
    ]},
    options: {
      responsive: false, animation: false, events: [],
      layout: {padding: {top: PAD_T, right: PAD_R, left: 0, bottom: 0}},
      plugins: {legend: {display: false}, tooltip: {enabled: false}},
      scales: {
        x: {type: 'linear', min: w.min, max: w.max,
            afterFit(s){ s.height = X_AXIS_H; },
            border: {display: false},
            grid: {color: '#ffffff', lineWidth: 1.3, drawTicks: false},
            ticks: {stepSize: w.step, includeBounds: false, autoSkip: false, maxRotation: 0, padding: 6,
                    color: TXT, font: {family: FONT, size: 13}, callback: v => v.toFixed(w.dec)}},
        y: {type: 'linear', min: -0.2, max: 0.2,
            afterFit(s){ s.width = Y_AXIS_W; },
            border: {display: false},
            grid: {color: '#ffffff', lineWidth: 1.3, drawTicks: false},
            afterBuildTicks(s){ s.ticks = yTicks.map(v => ({value: v})); },
            ticks: {padding: 10, color: TXT, font: {family: FONT, size: 13}, callback: fmtY}}
      }
    },
    plugins: [bgPlugin]
  });
});

// ---------------- text labels ----------------
function addLabel(html, x, y, rot){
  const d = document.createElement('div');
  d.className = 'lbl' + (rot ? ' rot' : '');
  d.innerHTML = html; d.style.left = x + 'px'; d.style.top = y + 'px';
  document.body.appendChild(d);
}
const colCenters = [296, 597, 899, 1200];
addLabel(windowTitles[0], colCenters[0], 24);
for (let i = 1; i < 4; i++) addLabel(windowTitles[i], colCenters[i], 218);
modelNames.forEach((m, r) => addLabel(m, 117, PLOT_T[r] + PLOT_H/2, true));
addLabel(yAxisTitle, 22, 508, true);
colCenters.forEach(x => addLabel(xAxisTitle, x, 1013));
</script>
</body></html>
